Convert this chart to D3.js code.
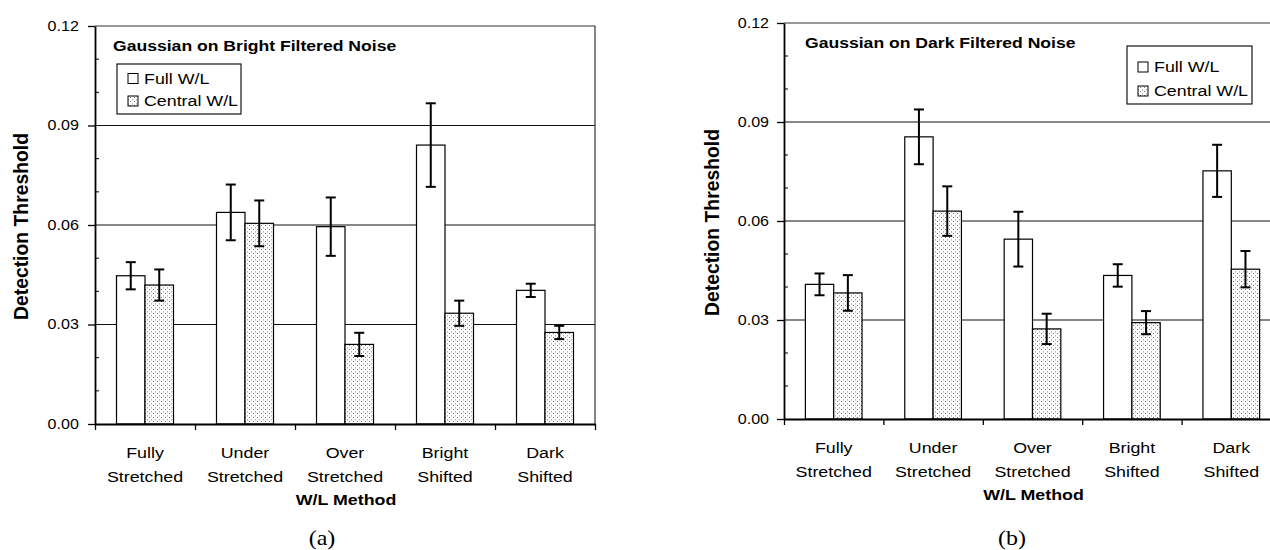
<!DOCTYPE html>
<html lang="en">
<head>
<meta charset="UTF-8" />
<title>Detection Threshold by W/L Method</title>
<style>
  body { margin: 0; background: #fff; }
  svg { display: block; font-family: "Liberation Sans", Arial, sans-serif; }
</style>
</head>
<body>
<script src="https://d3js.org/d3.v7.min.js"></script>
<script>
  // ---- data ----
  const categories = ["Fully Stretched", "Under Stretched", "Over Stretched", "Bright Shifted", "Dark Shifted"];
  const seriesNames = ["Full W/L", "Central W/L"];
  const yTicks = [0, 0.03, 0.06, 0.09, 0.12];
  const yMinorTicks = [0.01, 0.02, 0.04, 0.05, 0.07, 0.08, 0.10, 0.11];
  const gridValues = [0.03, 0.06, 0.09];

  // (a) Gaussian on bright filtered noise
  const brightFull = [0.0447, 0.0638, 0.0595, 0.0841, 0.0403];
  const brightFullErr = [0.0041, 0.0084, 0.0088, 0.0126, 0.0020];
  const brightCentral = [0.0419, 0.0605, 0.0240, 0.0334, 0.0276];
  const brightCentralErr = [0.0047, 0.0069, 0.0035, 0.0038, 0.0020];

  // (b) Gaussian on dark filtered noise
  const darkFull = [0.0408, 0.0855, 0.0545, 0.0435, 0.0752];
  const darkFullErr = [0.0033, 0.0083, 0.0083, 0.0034, 0.0079];
  const darkCentral = [0.0382, 0.0630, 0.0273, 0.0292, 0.0454];
  const darkCentralErr = [0.0054, 0.0075, 0.0046, 0.0035, 0.0055];

  const SX = 1.15; // the scanned text is a bit wider than Arial

  const svg = d3.select('body').append('svg')
    .attr('width', 1270)
    .attr('height', 550);

  // stipple fill for the Central W/L bars
  const pat = svg.append('defs').append('pattern')
    .attr('id', 'dots')
    .attr('width', 4).attr('height', 4)
    .attr('patternUnits', 'userSpaceOnUse');
  pat.append('rect').attr('width', 4).attr('height', 4).attr('fill', '#fff');
  pat.append('rect').attr('x', 1).attr('y', 1).attr('width', 1).attr('height', 1).attr('fill', '#6f6f6f');
  pat.append('rect').attr('x', 3).attr('y', 3).attr('width', 1).attr('height', 1).attr('fill', '#b5b5b5');
  pat.append('rect').attr('x', 3).attr('y', 0).attr('width', 1).attr('height', 1).attr('fill', '#d0d0d0');

  // text that is stretched horizontally around its anchor point
  function stext(g, x, y, str, size, opts = {}) {
    return g.append('text')
      .attr('transform', `translate(${x},${y}) scale(${opts.sx || SX},1)`)
      .attr('text-anchor', opts.anchor || 'start')
      .attr('font-size', size + 'px')
      .attr('font-weight', opts.bold ? 'bold' : null)
      .attr('font-family', opts.family || null)
      .attr('fill', '#000')
      .text(str);
  }

  function drawPanel(p) {
    const g = svg.append('g');

    const y = d3.scaleLinear().domain([0, 0.12]).range([p.bottom, p.top]);
    const x = d3.scaleBand().domain(categories).range([p.left, p.right]);
    const bw = x.bandwidth();
    const xs = d3.scaleBand().domain(seriesNames).range([bw * 0.215, bw * 0.785]);
    const xLin = d3.scaleLinear().domain([0, categories.length]).range([p.left, p.right]);

    // horizontal gridlines (behind the bars)
    g.append('g').selectAll('line')
      .data(gridValues)
      .enter().append('line')
      .attr('x1', p.left).attr('x2', p.right)
      .attr('y1', d => y(d)).attr('y2', d => y(d))
      .attr('stroke', '#111')
      .attr('stroke-width', 1.2);

    // plot border (top and right)
    g.append('path')
      .attr('d', `M${p.left},${y(0.12)}H${p.right}V${y(0)}`)
      .attr('fill', 'none')
      .attr('stroke', '#333')
      .attr('stroke-width', 1.2);

    const rows = categories.map((c, i) => [
      { cat: c, s: seriesNames[0], v: p.full[i], e: p.fullErr[i] },
      { cat: c, s: seriesNames[1], v: p.central[i], e: p.centralErr[i] }
    ]).flat();

    g.append('g').selectAll('rect')
      .data(rows)
      .enter().append('rect')
      .attr('x', d => x(d.cat) + xs(d.s))
      .attr('y', d => y(d.v))
      .attr('width', xs.bandwidth())
      .attr('height', d => y(0) - y(d.v))
      .attr('fill', d => d.s === seriesNames[0] ? '#fff' : 'url(#dots)')
      .attr('stroke', '#000')
      .attr('stroke-width', 1.2);

    // error bars
    const eb = g.append('g').selectAll('g')
      .data(rows)
      .enter().append('g')
      .attr('stroke', '#000')
      .attr('stroke-width', 2);
    const cx = d => x(d.cat) + xs(d.s) + xs.bandwidth() / 2;
    eb.append('line')
      .attr('x1', cx).attr('x2', cx)
      .attr('y1', d => y(d.v - d.e)).attr('y2', d => y(d.v + d.e));
    eb.append('line')
      .attr('x1', d => cx(d) - 5).attr('x2', d => cx(d) + 5)
      .attr('y1', d => y(d.v + d.e)).attr('y2', d => y(d.v + d.e));
    eb.append('line')
      .attr('x1', d => cx(d) - 5).attr('x2', d => cx(d) + 5)
      .attr('y1', d => y(d.v - d.e)).attr('y2', d => y(d.v - d.e));

    // y axis
    const yAxis = g.append('g')
      .attr('transform', `translate(${p.left},0)`)
      .call(d3.axisLeft(y).tickValues(yTicks).tickFormat(d3.format('.2f'))
        .tickSize(7).tickSizeOuter(0).tickPadding(p.tickPad));
    yAxis.attr('font-family', null).attr('font-size', null);
    yAxis.select('.domain').attr('stroke-width', 1.8);
    yAxis.selectAll('.tick line').attr('stroke-width', 1.3);
    yAxis.selectAll('.tick text')
      .attr('font-size', '14px')
      .attr('fill', '#000')
      .attr('transform', `scale(${SX},1)`);

    // minor ticks point into the plot
    g.append('g').selectAll('line')
      .data(yMinorTicks)
      .enter().append('line')
      .attr('x1', p.left).attr('x2', p.left + 4)
      .attr('y1', d => y(d)).attr('y2', d => y(d))
      .attr('stroke', '#000');

    // x axis with ticks between categories
    const xAxis = g.append('g')
      .attr('transform', `translate(0,${p.bottom})`)
      .call(d3.axisBottom(xLin).tickValues(d3.range(categories.length + 1))
        .tickFormat('').tickSize(6).tickSizeOuter(0));
    xAxis.select('.domain').attr('stroke-width', 1.8);
    xAxis.selectAll('.tick line').attr('stroke-width', 1.3);

    // category labels on two lines
    categories.forEach(c => {
      const parts = c.split(' ');
      const cxc = x(c) + bw / 2;
      stext(g, cxc, p.bottom + 34, parts[0], 15.5, { anchor: 'middle' });
      stext(g, cxc, p.bottom + 58, parts[1], 15.5, { anchor: 'middle' });
    });

    // axis titles
    stext(g, (p.left + p.right) / 2 + 1, p.bottom + 81, 'W/L Method', 15.5, { anchor: 'middle', bold: true });
    g.append('text')
      .attr('transform', `translate(${p.yLabelX},${(p.top + p.bottom) / 2 + 1.5}) rotate(-90) scale(1.075,1.14)`)
      .attr('text-anchor', 'middle')
      .attr('font-size', '18px')
      .attr('font-weight', 'bold')
      .text('Detection Threshold');

    // chart title
    stext(g, p.titleX, p.titleY, p.title, 15.3, { bold: true });

    // legend
    const lg = g.append('g').attr('transform', `translate(${p.legend.x},${p.legend.y})`);
    lg.append('rect')
      .attr('width', p.legend.w).attr('height', p.legend.h)
      .attr('fill', '#fff').attr('stroke', '#000').attr('stroke-width', 1.1);
    seriesNames.forEach((s, i) => {
      const ry = p.legend.row0 + i * p.legend.step;
      lg.append('rect')
        .attr('x', 11).attr('y', ry - 10)
        .attr('width', 10).attr('height', 10)
        .attr('fill', i === 0 ? '#fff' : 'url(#dots)')
        .attr('stroke', '#000').attr('stroke-width', 1);
      stext(lg, 27, ry, s, 15.5);
    });

    // panel letter
    stext(g, p.letterX, 545, p.letter, 20, { anchor: 'middle', family: '"Liberation Serif", "Times New Roman", serif', sx: 1.2 });
  }

  drawPanel({
    left: 95, right: 595, top: 26, bottom: 424, tickPad: 7,
    full: brightFull, fullErr: brightFullErr, central: brightCentral, centralErr: brightCentralErr,
    title: 'Gaussian on Bright Filtered Noise', titleX: 113, titleY: 51,
    legend: { x: 117, y: 64, w: 124, h: 50, row0: 19.5, step: 22.5 },
    yLabelX: 28, letter: '(a)', letterX: 322
  });

  drawPanel({
    left: 784, right: 1281, top: 23, bottom: 419, tickPad: 6,
    full: darkFull, fullErr: darkFullErr, central: darkCentral, centralErr: darkCentralErr,
    title: 'Gaussian on Dark Filtered Noise', titleX: 805, titleY: 48,
    legend: { x: 1127, y: 46, w: 125, h: 58, row0: 26, step: 24 },
    yLabelX: 719, letter: '(b)', letterX: 1012
  });
</script>
</body>
</html>
